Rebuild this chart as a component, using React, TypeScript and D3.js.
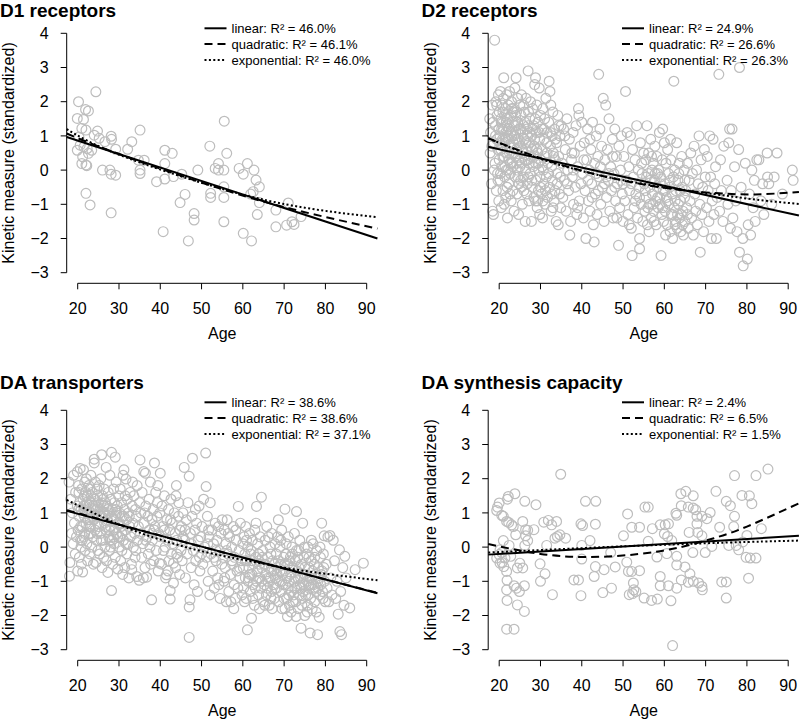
import React from 'react';
import * as d3 from 'd3';

// ---- data: [age, standardized kinetic measure] ----
const d1Points: [number, number][] = [
  [24.4,2.29],[20.2,2.0],[21.9,1.77],[22.6,1.73],[19.9,1.51],[21.4,1.48],[21.0,1.22],[22.0,1.17],[24.8,1.14],
  [35.1,1.17],[55.5,1.43],[20.3,0.97],[24.0,1.02],[25.2,0.93],[28.1,0.99],[28.2,0.9],[26.6,0.83],[33.1,0.83],
  [32.1,0.61],[29.2,0.61],[23.4,0.58],[19.9,0.58],[20.6,0.73],[21.5,0.68],[22.3,0.63],[52.0,0.7],[41.1,0.58],
  [42.9,0.49],[56.1,0.49],[21.0,0.19],[22.0,0.15],[22.2,0.13],[26.0,0.0],[27.8,0.0],[28.1,-0.12],[29.2,-0.15],
  [35.1,-0.1],[35.1,0.0],[34.7,0.29],[36.1,0.29],[39.1,-0.34],[41.1,0.19],[41.1,-0.26],[43.2,-0.19],[45.2,-0.12],
  [49.1,0.0],[46.0,-0.71],[44.8,-0.95],[48.2,-1.27],[48.2,-1.46],[46.8,-2.07],[40.7,-1.8],[52.2,-0.68],[52.2,-0.8],
  [53.3,0.05],[54.1,0.19],[54.1,0.0],[55.4,0.0],[55.4,-0.49],[55.4,-0.8],[55.4,-1.51],[59.1,0.05],[60.1,-0.12],
  [61.1,0.19],[62.7,0.0],[63.2,-0.29],[64.0,-0.49],[62.5,-0.63],[61.9,-0.7],[64.0,-0.95],[63.5,-1.3],[60.1,-1.85],
  [62.1,-2.07],[68.0,-1.17],[68.0,-1.66],[71.0,-0.96],[70.6,-1.61],[71.9,-1.51],[72.4,-1.59],[74.1,-1.36],
  [22.0,-0.68],[23.0,-1.02],[28.1,-1.25],[21.2,0.39],[22.6,0.49],
];

const d2Points: [number, number][] = [
  [17.7,1.5],[17.8,0.5],[17.9,1.1],[18.1,-0.4],[18.3,1.9],[18.4,-1.2],[18.6,-1.3],[18.7,0.8],[18.9,3.8],[19.0,0.2],
  [19.1,1.3],[19.2,2.0],[19.3,-0.6],[19.4,0.9],[19.5,1.6],[19.6,-0.1],[19.7,0.6],[19.8,2.2],[19.9,1.2],[19.9,-0.9],
  [20.0,0.3],[20.0,1.7],
  [20.2,1.0],[20.2,-0.3],[20.3,2.3],[20.4,0.6],[20.5,1.4],[20.5,-1.1],[20.6,0.1],[20.7,1.9],[20.8,0.9],[20.9,-0.6],
  [21.0,1.2],[21.0,2.1],[21.1,2.7],[21.2,0.4],[21.3,1.6],[21.3,-0.2],[21.4,0.8],[21.5,1.8],[21.6,-0.8],[21.6,1.1],
  [21.7,0.0],[21.8,2.2],[21.9,0.5],[22.0,1.5],[22.0,-1.4],[22.1,0.9],[22.2,1.9],[22.3,-0.4],[22.4,1.2],[22.4,0.3],
  [22.5,2.3],[22.6,0.7],[22.7,-0.1],[22.8,1.6],[22.9,-0.9],[23.0,1.0],[23.0,2.0],[23.1,0.2],[23.2,1.4],[23.3,-0.6],
  [23.4,0.8],[23.5,1.8],[23.6,-1.2],[23.6,0.5],[23.7,1.3],[23.8,2.4],[23.9,-0.2],[24.0,1.1],[24.1,2.7],[24.1,0.6],
  [24.2,1.7],[24.3,-0.7],[24.4,0.0],[24.5,1.4],[24.5,2.1],[24.6,0.9],[24.7,-1.3],[24.8,0.3],[24.9,1.2],[25.0,1.9],
  [20.9,0.4],[21.8,1.3],[22.6,-0.7],[23.4,1.7],[24.2,0.2],[20.4,1.5],[22.1,0.0],[23.9,0.9],[21.2,-1.0],[24.8,-0.4],
  [25.1,0.7],[25.2,-0.3],[25.3,1.6],[25.4,2.2],[25.5,0.2],[25.6,-1.0],[25.7,1.1],[25.8,0.5],[25.9,1.9],[26.0,-0.6],
  [26.1,0.9],[26.2,1.4],[26.3,-1.5],[26.4,0.0],[26.5,2.1],[26.6,0.6],[26.7,1.2],[26.8,-0.4],[27.0,2.9],[27.0,0.3],
  [27.1,1.7],[27.2,-0.9],[27.3,0.8],[27.4,1.5],[27.5,-0.1],[27.6,2.0],[27.7,0.4],[27.8,-1.5],[27.9,1.0],[28.0,-0.5],
  [28.1,1.8],[28.2,0.1],[28.3,1.3],[28.4,-0.8],[28.5,0.7],[28.6,2.5],[28.8,2.7],[28.8,0.2],[28.9,-0.3],[29.0,1.1],
  [29.1,1.9],[29.2,-1.1],[29.3,0.5],[29.4,1.4],[29.5,-0.6],[29.6,0.0],[29.7,2.4],[29.8,0.9],[29.9,-0.2],[30.0,1.6],
  [25.4,-0.5],[26.2,0.3],[27.1,-0.2],[28.0,0.6],[28.7,1.5],[29.3,-0.9],[26.9,1.0],[25.9,1.3],[29.8,-1.3],[27.5,1.1],
  [30.1,0.3],[30.2,-0.7],[30.3,1.2],[30.4,0.6],[30.5,-1.4],[30.6,1.8],[30.7,0.0],[30.8,-0.4],[30.9,0.9],[31.0,1.5],
  [31.1,-1.0],[31.2,0.4],[31.3,2.1],[31.4,-0.2],[31.5,0.8],[31.6,1.1],[31.7,-0.8],[31.8,0.2],[32.0,1.4],[32.1,2.6],
  [32.2,-0.5],[32.3,2.3],[32.4,0.7],[32.5,1.9],[32.6,-1.2],[32.7,0.1],[32.8,1.0],[32.9,-0.3],[33.0,1.7],[33.1,0.5],
  [33.3,-0.9],[33.4,1.2],[33.5,-0.6],[33.6,0.3],[33.8,-1.5],[33.9,0.8],[34.0,-0.1],[34.2,1.6],[34.3,-1.6],[34.4,0.4],
  [34.6,-0.7],[34.7,1.0],[34.8,-0.2],[35.0,1.3],[34.9,-1.1],
  [35.2,0.2],[35.4,-0.8],[35.6,1.2],[35.8,-0.3],[36.0,0.6],[36.2,-1.2],[36.4,1.5],[36.6,0.0],[36.8,-0.6],[37.0,0.9],
  [37.1,-1.9],[37.3,-1.5],[37.5,0.3],[37.7,-0.2],[37.9,1.1],[38.0,-1.0],[38.2,0.5],[38.4,-0.5],[38.6,1.3],[38.8,-1.3],
  [39.0,0.1],[39.2,1.8],[39.3,1.6],[39.4,-0.9],[39.6,0.7],[39.8,-0.4],[40.0,1.4],[35.9,1.0],[37.6,0.5],[39.0,-1.1],
  [40.2,-0.1],[40.4,-1.4],[40.6,0.8],[40.8,-0.6],[41.0,-2.0],[41.2,0.3],[41.4,1.2],[41.6,-0.9],[41.8,0.0],[42.0,-1.2],
  [42.2,0.6],[42.4,-0.4],[42.6,1.4],[42.8,-1.6],[43.0,-2.1],[43.1,0.2],[43.3,-0.7],[43.5,1.0],[43.7,-1.3],[43.9,0.4],
  [44.1,2.8],[44.2,-0.2],[44.4,1.2],[44.6,-1.0],[44.8,0.7],[45.0,-0.5],[42.0,0.9],[43.5,-0.1],[41.5,-0.3],[44.5,0.1],
  [45.2,2.1],[45.4,-1.5],[45.6,0.3],[45.8,1.9],[46.0,-0.8],[46.2,0.6],[46.4,-0.3],[46.6,1.5],[46.8,-1.2],[47.0,0.1],
  [47.2,-0.6],[47.4,0.9],[47.6,-1.4],[47.8,-0.1],[48.0,1.2],[48.2,-0.9],[48.4,0.4],[48.6,-0.4],[48.9,-2.2],[49.0,0.7],
  [49.2,-1.1],[49.4,0.0],[49.6,1.0],[49.8,-0.7],[50.0,-1.5],[46.5,-0.1],[47.5,0.4],[48.5,-1.4],[49.5,-0.3],[45.5,-0.4],
  [50.2,0.4],[50.4,-0.9],[50.6,2.3],[50.8,-0.3],[51.0,1.1],[51.2,-1.3],[51.4,0.1],[51.6,-0.6],[51.8,1.0],[52.0,-1.7],
  [52.2,-2.5],[52.3,0.6],[52.5,-0.2],[52.7,-1.1],[52.9,0.3],[53.1,-0.7],[53.3,1.3],[53.5,-1.4],[53.7,0.0],[53.9,-0.5],
  [54.0,-2.0],[54.0,-2.3],[54.2,0.8],[54.4,-1.0],[54.6,-0.1],[54.8,-1.5],[55.0,0.5],[51.5,-1.6],[53.0,-0.9],[54.5,0.2],
  [55.2,-0.4],[55.3,-1.2],[55.5,0.3],[55.6,-0.8],[55.8,1.3],[55.9,-1.6],[56.1,-0.1],[56.2,0.5],[56.4,-1.0],[56.5,-0.5],
  [56.7,0.9],[56.8,-1.4],[57.0,0.0],[57.1,-0.7],[57.3,0.2],[57.4,-1.2],[57.6,-0.3],[57.7,0.7],[57.9,-0.9],[58.0,-1.6],
  [58.2,0.4],[58.3,-0.5],[58.5,-1.1],[58.6,0.0],[58.8,1.1],[58.9,-0.8],[59.1,-0.2],[59.2,-2.5],[59.4,-1.3],[59.5,0.3],
  [59.7,-0.6],[59.8,-1.5],[60.0,0.8],[55.7,-0.2],[56.9,0.4],[57.5,-1.5],[58.4,-0.1],[59.0,-1.0],[59.6,1.2],[56.3,-1.8],
  [60.1,-0.4],[60.2,-1.2],[60.4,0.2],[60.5,-0.8],[60.7,-1.6],[60.8,0.6],[61.0,-0.1],[61.1,-1.0],[61.3,-0.5],[61.4,-1.8],
  [61.6,0.3],[61.7,-1.3],[61.9,-0.7],[62.0,-2.0],[62.2,-0.2],[62.3,2.6],[62.4,-1.1],[62.5,0.0],[62.7,-1.5],[62.8,-0.6],
  [63.0,0.8],[63.1,-1.7],[63.3,-0.3],[63.4,-1.0],[63.6,0.2],[63.7,-1.4],[63.9,-0.9],[64.0,-1.8],[64.2,0.4],[64.3,-0.5],
  [64.5,-1.2],[64.6,-1.9],[64.8,0.0],[64.9,-0.8],[65.0,-1.5],[61.5,0.9],[62.6,-1.6],[63.5,-0.1],[60.3,-1.9],[64.1,-1.3],
  [65.2,-0.6],[65.4,-1.1],[65.6,0.2],[65.8,-1.7],[66.0,-0.3],[66.2,-0.9],[66.4,0.5],[66.6,-1.4],[66.8,-0.1],[67.0,-1.9],
  [67.2,0.7],[67.4,-0.7],[67.6,-1.2],[67.8,0.0],[68.0,-1.6],[68.2,-0.4],[68.4,1.0],[68.6,-1.0],[68.7,-2.4],[68.9,0.3],
  [69.1,-1.3],[69.3,-0.5],[69.5,-1.8],[69.7,0.6],[69.9,-0.2],
  [70.2,-1.1],[70.4,0.4],[70.6,-0.6],[70.8,-1.5],[71.0,1.0],[71.2,-0.2],[71.4,-2.0],[71.6,-0.9],[71.8,0.9],[72.0,-1.3],
  [72.2,-0.4],[72.4,0.1],[72.6,-2.0],[72.8,-0.8],[73.2,2.8],[73.4,-1.2],[73.6,0.3],[73.8,-0.6],[74.2,-1.5],[74.4,0.7],
  [75.2,-0.3],[75.4,-1.0],[75.6,0.8],[75.8,1.2],[76.0,-1.7],[76.2,-0.6],[76.4,1.2],[76.6,-1.4],[77.0,0.1],[77.3,-0.9],
  [77.6,-1.8],[78.0,0.6],[78.2,3.0],[78.2,-2.4],[78.6,-0.5],[79.0,-2.0],[79.1,-2.8],[79.6,0.2],
  [80.1,-2.6],[80.3,-1.6],[80.6,-0.7],[80.9,-1.9],[81.2,0.0],[81.5,-1.1],[81.8,-0.3],[82.0,-1.5],[82.4,0.3],[82.9,0.3],
  [83.4,-0.9],[83.8,-0.4],[84.1,-1.3],[84.9,0.5],
  [85.0,-0.2],[85.3,-0.4],[86.0,-1.0],[86.6,-0.2],[87.3,0.5],[88.6,-0.7],[91.0,0.0],[91.2,-0.3],
  // denser young cluster
  [18.2,0.7],[18.5,1.4],[18.8,0.0],[19.1,1.0],[19.4,1.9],[19.7,-0.3],[20.1,0.8],[20.6,1.2],[20.9,1.7],[21.1,0.7],
  [21.4,0.1],[21.7,1.4],[21.9,-0.5],[22.2,1.0],[22.5,0.5],[22.8,1.1],[23.1,1.8],[23.3,0.1],[23.6,1.0],[23.9,0.4],
  [24.2,1.3],[24.5,-0.2],[24.7,0.8],[25.0,0.1],[25.3,1.2],[25.6,0.6],[25.9,-0.2],[26.1,1.7],[26.4,0.8],[26.7,-0.7],
  [27.0,1.3],[27.3,0.2],[27.6,0.7],[27.9,-0.3],[28.2,1.2],[28.5,0.4],[28.8,-0.9],[29.1,0.6],[29.4,0.2],[29.7,1.1],
  [30.0,-0.5],[30.4,0.1],[30.8,1.2],[31.2,-0.6],[31.6,0.5],[32.0,-0.1],[32.4,1.1],[32.8,-0.7],[33.2,0.4],[33.6,0.9],
  [34.0,-0.4],[34.4,1.3],[26.0,0.4],[22.7,0.2],[24.0,1.6],[21.5,0.9],[20.3,-0.1],[28.6,0.9],[30.6,-0.9],[33.0,-1.1],
  [55.4,-0.6],[56.0,-1.1],[56.6,-0.3],[57.2,-1.0],[57.8,-0.1],[58.4,-0.8],[59.0,-0.4],[59.6,-1.1],[60.2,-0.6],[60.8,-0.9],
  [61.4,-0.3],[62.0,-1.3],[62.6,-0.9],[63.2,-1.3],[63.8,-0.6],[64.4,-1.6],[65.0,-0.3],[65.6,-1.3],[44.0,-0.6],[46.0,-0.2],
  [48.0,-0.5],[50.0,-0.4],[52.0,-0.4],[54.0,-0.8],[40.5,0.3],[42.5,-0.8],[38.0,0.0],[36.5,-0.4],
];

const datPoints: [number, number][] = [
  [17.9,1.9],[18.0,-0.85],[18.1,-0.45],[18.3,1.4],[18.5,0.4],[18.7,1.0],[18.9,0.1],[19.0,2.1],[19.2,0.7],[19.4,-0.2],
  [19.5,1.6],[19.7,0.3],[19.9,2.2],[19.9,1.2],[20.0,-0.7],
  [20.1,0.5],[20.2,1.8],[20.3,0.9],[20.4,-0.3],[20.5,1.3],[20.6,2.3],[20.7,0.2],[20.8,1.1],[20.9,-0.5],[21.0,1.7],
  [21.1,0.6],[21.2,-0.73],[21.3,1.4],[21.4,2.26],[21.5,0.3],[21.6,0.9],[21.7,1.9],[21.8,-0.1],[21.9,1.2],[22.0,0.7],
  [22.1,2.0],[22.2,0.1],[22.3,1.5],[22.4,-0.4],[22.5,0.8],[22.6,1.1],[22.7,1.8],[22.8,0.4],[22.9,-0.2],[23.0,1.3],
  [23.1,0.6],[23.2,2.1],[23.3,1.0],[23.4,0.0],[23.5,1.6],[23.6,0.3],[23.7,1.2],[23.8,-0.5],[23.9,0.8],[24.0,2.57],
  [24.0,2.46],[24.1,1.4],[24.2,0.5],[24.3,1.9],[24.4,-0.45],[24.5,1.1],[24.6,0.2],[24.7,1.7],[24.8,0.7],[24.9,-0.1],
  [25.0,1.3],[20.8,0.0],[21.6,1.5],[22.4,1.0],[23.2,0.4],[24.4,0.9],[20.3,1.6],[22.9,1.7],[23.8,1.1],[21.1,0.2],
  [25.1,0.6],[25.2,1.8],[25.3,-0.2],[25.4,1.1],[25.5,0.4],[25.6,2.0],[25.8,2.7],[25.8,0.9],[25.9,-0.6],[26.0,1.5],
  [26.1,0.2],[26.2,1.0],[26.3,-0.3],[26.4,1.7],[26.5,0.7],[26.6,0.0],[26.7,1.3],[26.9,2.33],[26.9,0.5],[27.0,-0.4],
  [27.1,1.2],[27.2,0.8],[27.3,-0.74],[27.4,1.6],[27.5,0.3],[27.6,1.0],[27.7,-0.1],[27.8,2.1],[27.9,0.6],[28.0,1.4],
  [28.2,2.77],[28.2,-1.27],[28.3,0.2],[28.4,1.1],[28.5,-0.5],[28.6,0.8],[28.7,1.7],[28.8,0.1],[28.9,1.3],[29.1,2.63],
  [29.1,-0.3],[29.2,0.9],[29.3,1.9],[29.4,0.4],[29.6,1.2],[29.7,-0.64],[29.8,0.7],[29.9,1.5],[30.0,0.0],[25.7,1.3],
  [26.8,0.9],[27.8,0.2],[28.9,0.5],[29.5,1.0],[26.3,1.2],
  [30.1,1.0],[30.2,0.3],[30.3,1.7],[30.4,-0.4],[30.5,0.6],[30.6,1.3],[30.7,-0.1],[30.8,0.9],[31.0,2.1],[31.1,0.2],
  [31.2,2.26],[31.3,1.1],[31.4,-0.6],[31.6,0.5],[31.7,1.99],[31.8,0.8],[31.9,-0.2],[32.0,1.4],[32.2,0.1],[32.3,1.0],
  [32.4,-0.9],[32.6,0.6],[32.7,1.6],[32.8,0.3],[33.0,-0.5],[33.1,-0.66],[33.2,1.2],[33.4,0.7],[33.5,0.0],[33.6,1.5],
  [33.8,0.4],[33.9,-0.3],[34.0,1.1],[34.2,0.9],[34.3,-0.86],[34.4,1.8],[34.5,0.2],[34.7,0.6],[34.9,-0.97],[35.0,1.3],
  [31.5,1.5],[32.5,0.9],[33.3,1.9],[34.1,-0.1],[30.9,-0.8],
  [35.1,2.55],[35.2,0.4],[35.3,1.0],[35.5,-0.3],[35.6,1.6],[35.8,0.1],[36.0,2.21],[36.1,0.7],[36.3,-0.6],[36.4,2.16],
  [36.5,1.2],[36.7,-0.88],[36.8,0.3],[37.0,0.9],[37.1,-0.2],[37.3,1.4],[37.4,0.5],[37.6,1.9],[37.7,-0.5],[37.9,-1.54],
  [38.0,0.8],[38.1,0.2],[38.3,1.1],[38.4,-0.4],[38.6,2.46],[38.7,0.6],[38.9,1.6],[39.0,-0.1],[39.2,0.9],[39.3,1.3],
  [39.5,-0.7],[39.6,0.4],[39.8,-0.47],[39.9,1.0],[40.0,2.16],[36.2,1.0],[37.5,0.0],[38.5,0.5],[39.4,1.8],[35.9,-0.9],
  [40.1,0.3],[40.3,-0.5],[40.4,1.2],[40.6,0.6],[40.8,-0.1],[41.0,1.5],[41.2,0.0],[41.3,-0.9],[41.5,-0.81],[41.6,0.8],
  [41.8,0.2],[42.0,1.1],[42.1,-0.4],[42.3,0.5],[42.4,-1.27],[42.4,-1.52],[42.6,1.4],[42.7,-0.2],[42.9,0.7],[43.0,0.1],
  [43.2,-1.05],[43.2,-0.47],[43.4,1.0],[43.6,0.4],[43.7,-0.6],[43.9,1.8],[44.0,0.2],[44.2,-0.3],[44.4,0.9],[44.5,1.3],
  [44.7,-0.8],[44.8,0.5],[45.0,-0.1],[41.9,-0.7],[43.8,1.5],
  [45.1,0.6],[45.3,-0.4],[45.5,1.0],[45.8,2.33],[45.9,0.2],[46.1,-0.9],[46.3,0.8],[46.5,-0.2],[46.7,1.3],[47.0,2.07],
  [47.0,-2.64],[47.0,-1.75],[47.2,-1.54],[47.3,0.4],[47.5,-0.6],[47.7,0.9],[47.8,2.6],[48.0,-0.1],[48.2,-1.1],[48.4,0.5],
  [48.6,-0.4],[48.8,0.7],[49.0,-1.3],[49.2,0.2],[49.4,1.2],[49.6,-0.7],[49.8,0.3],[50.0,-0.2],[46.0,0.5],[48.5,1.1],
  [50.1,0.6],[50.3,-0.5],[50.5,1.4],[50.7,0.0],[51.0,2.75],[51.1,1.77],[51.2,-0.3],[51.4,0.9],[51.6,-1.0],[51.8,0.3],
  [52.0,-1.4],[52.1,1.3],[52.3,-0.2],[52.5,0.5],[52.7,-0.7],[52.9,0.1],[53.1,-1.2],[53.3,0.7],[53.5,-0.4],[53.7,0.2],
  [53.9,-0.9],[54.1,0.6],[54.3,-0.1],[54.5,-1.5],[54.7,0.4],[54.9,-0.5],[55.0,0.8],[51.7,0.5],[53.0,-0.3],[54.2,-1.1],
  [55.2,-0.3],[55.4,-1.0],[55.5,0.5],[55.7,-0.6],[55.9,0.1],[56.0,-1.6],[56.2,0.8],[56.4,-0.2],[56.6,-1.3],[56.8,0.3],
  [57.0,-0.8],[57.1,-1.6],[57.3,0.0],[57.5,-0.5],[57.7,0.6],[57.9,-1.1],[58.0,-0.3],[58.2,-1.5],[58.4,0.2],[58.6,-0.7],
  [58.8,-1.2],[58.9,1.19],[59.1,-0.1],[59.3,-0.9],[59.4,0.7],[59.6,-0.4],[59.8,-1.4],[60.0,0.1],[55.6,-0.9],[56.5,0.4],
  [57.4,-0.4],[58.3,0.5],[59.2,-0.6],[56.1,-0.1],[57.8,-1.8],
  [60.1,-0.6],[60.2,-1.2],[60.3,0.3],[60.5,-0.2],[60.6,-0.9],[60.7,0.6],[60.8,-1.5],[61.0,-0.4],[61.1,-2.42],[61.2,0.0],
  [61.3,-1.0],[61.5,-0.6],[61.6,0.4],[61.8,-1.3],[61.9,-0.2],[62.1,-2.08],[62.2,-0.8],[62.3,0.2],[62.5,-1.1],[62.6,-0.5],
  [62.8,-1.7],[62.9,0.5],[63.1,-0.3],[63.3,1.19],[63.3,-1.0],[63.5,-0.7],[63.6,0.1],[63.8,-1.4],[63.9,-0.4],[64.1,-0.9],
  [64.2,0.3],[64.4,-1.2],[64.5,1.46],[64.6,-0.6],[64.8,-0.1],[65.0,-1.6],[60.9,0.2],[61.7,-0.8],[62.4,-1.5],[63.2,0.7],
  [64.0,-1.8],[64.7,-0.3],[62.0,-0.1],[63.7,-0.9],[60.4,-1.6],
  [65.1,-0.5],[65.2,-1.1],[65.4,0.2],[65.5,-0.8],[65.7,-1.4],[65.8,0.6],[66.0,-0.3],[66.1,-1.0],[66.3,-0.6],[66.4,-1.7],
  [66.6,0.0],[66.7,-0.9],[66.9,-1.3],[67.0,0.4],[67.2,-0.4],[67.3,-1.1],[67.5,-0.7],[67.6,-1.5],[67.8,0.1],[67.9,-0.9],
  [68.1,-0.2],[68.2,-1.2],[68.4,0.3],[68.5,-0.6],[68.7,-1.6],[68.8,-1.0],[69.0,0.0],[69.1,-0.5],[69.3,-1.3],[69.4,0.5],
  [69.6,-0.8],[69.7,-1.1],[69.9,-0.3],[70.0,-1.5],[70.2,1.11],[65.9,-1.2],[66.8,-0.2],[67.7,-0.5],[68.6,0.8],[69.5,-1.8],
  [66.2,0.3],[67.1,-1.8],[68.3,-0.8],[69.2,0.2],[65.3,-1.7],
  [70.1,-0.7],[70.3,-1.1],[70.4,-0.2],[70.6,-1.5],[70.8,-2.03],[70.9,-0.5],[71.0,0.3],[71.2,-1.0],[71.3,-1.7],[71.5,-0.3],
  [71.6,-0.8],[71.8,-1.3],[71.9,0.0],[72.1,-0.6],[72.2,-1.6],[72.4,-1.0],[72.5,0.4],[72.7,-0.4],[72.9,-2.03],[73.0,1.04],
  [73.1,-1.2],[73.2,-0.7],[73.4,-1.8],[73.5,-0.1],[73.7,-1.4],[73.8,0.2],[74.0,-0.9],[74.1,-2.37],[74.2,-0.5],[74.4,-1.5],
  [74.5,0.7],[74.7,-1.1],[74.8,-0.3],[75.0,-2.0],[70.5,0.1],[71.4,-0.4],[72.3,-1.4],[73.3,-0.3],[74.3,-1.7],[70.7,-0.9],
  [71.7,-1.9],[72.6,-0.9],[73.6,-0.6],[74.6,-1.3],[71.1,-1.4],[72.0,-0.2],[73.9,-1.1],[74.9,0.0],[70.2,-1.8],[72.8,-1.6],
  [75.1,-0.8],[75.2,-1.4],[75.4,-0.2],[75.5,-1.0],[75.7,-1.7],[75.8,0.0],[76.0,-0.6],[76.1,-1.2],[76.3,-2.51],[76.4,-1.5],
  [76.5,-0.4],[76.7,-0.9],[76.8,-1.8],[77.0,0.1],[77.1,-1.1],[77.3,-0.5],[77.4,-1.6],[77.6,-0.8],[77.7,-1.3],[77.9,-0.1],
  [78.1,-2.56],[78.2,-1.0],[78.3,-0.6],[78.5,-2.05],[78.6,-1.4],[78.8,-0.3],[78.9,-1.1],[79.1,0.7],[79.2,-0.7],[79.4,-1.5],
  [79.5,-0.2],[79.7,0.33],[79.8,-1.0],[80.0,-1.6],[75.6,-1.9],[76.6,0.2],[77.5,-1.2],[78.4,-0.9],[79.3,-1.3],[75.9,-1.1],
  [76.9,-0.7],[77.8,-1.9],[78.7,0.0],[79.6,-0.6],[76.2,-0.9],
  [80.2,-0.5],[80.4,-1.2],[80.6,0.3],[80.8,-1.6],[81.1,0.34],[81.3,-0.9],[81.6,-1.4],[81.9,0.2],[82.2,-0.4],[82.5,-1.5],
  [82.8,-1.0],[83.1,-1.96],[83.4,-0.08],[83.5,-2.47],[83.7,-1.3],[83.9,-2.56],[84.2,-0.6],[84.5,-1.7],[84.7,-0.27],[85.0,-0.9],
  [85.9,-1.78],[87.2,-0.66],[89.2,-0.47],
  // denser clusters
  [20.2,1.1],[20.7,0.6],[21.2,1.0],[21.7,0.4],[22.2,1.3],[22.7,0.6],[23.2,1.5],[23.7,0.9],[24.2,1.2],[24.7,0.4],
  [25.2,0.9],[25.7,0.2],[26.2,1.4],[26.7,0.6],[27.2,1.1],[27.7,0.5],[28.2,0.9],[28.7,0.3],[29.2,1.1],[29.7,0.3],
  [30.2,0.7],[30.7,0.4],[31.2,0.9],[31.7,0.1],[21.4,1.2],[23.0,0.8],[24.8,1.5],[26.5,1.0],[28.0,0.0],[22.0,1.6],
  [60.6,-0.4],[61.4,-0.9],[62.2,-0.4],[63.0,-1.2],[63.8,-0.2],[64.6,-1.0],[65.4,-0.5],[66.2,-0.9],[67.0,-0.7],[67.8,-1.2],
  [68.6,-0.4],[69.4,-1.0],[70.2,-0.5],[71.0,-1.2],[71.8,-0.6],[72.6,-1.2],[73.4,-0.9],[74.2,-1.2],[75.0,-0.6],[75.8,-1.4],
  [76.6,-1.1],[77.4,-0.3],[78.2,-1.2],[79.0,-0.8],[73.0,-0.1],[74.8,-0.8],[76.0,-0.3],[69.0,-0.7],[66.8,-1.5],[64.0,-0.5],
  [41.0,0.5],[42.5,0.8],[44.0,-0.2],[45.5,0.3],[47.5,0.1],[49.5,-0.3],[51.5,0.1],[53.5,-0.1],[38.0,0.4],[36.5,0.2],
];

const synthPoints: [number, number][] = [
  [20.0,1.29],[19.6,1.17],[19.4,1.07],[20.6,0.93],[21.0,0.9],[21.8,0.75],[22.3,0.72],[23.0,0.65],[23.8,1.56],[22.2,1.48],
  [22.0,1.4],[24.0,0.36],[23.4,0.6],[25.7,0.75],[26.2,1.34],[26.4,0.51],[26.9,0.49],[26.9,0.19],[26.4,0.33],[26.2,0.05],
  [21.0,0.19],[22.4,0.05],[20.2,-0.08],[19.4,-0.32],[20.2,-0.47],[20.7,-0.45],[21.4,-0.32],[21.1,-0.57],[21.8,-0.71],
  [22.8,-0.27],[21.9,-0.97],[21.8,-1.25],[21.9,-1.56],[23.6,-1.13],[24.2,-1.2],[24.9,-1.3],[25.0,-0.47],[24.4,-0.61],
  [25.7,-0.61],[26.1,-1.13],[24.4,-1.69],[26.1,-1.88],[21.8,-2.4],[23.6,-2.4],[20.0,-0.22],[20.6,-0.16],
  [28.9,1.24],[28.4,0.51],[29.9,-0.49],[30.0,-1.0],[31.1,-0.78],[31.5,0.05],[30.8,0.73],[31.9,0.78],[32.7,0.65],
  [33.9,0.75],[32.9,-1.39],[33.5,0.26],[34.1,0.31],[34.7,0.36],[36.1,0.26],[34.9,2.13],[38.1,-0.96],[39.2,-0.96],
  [39.8,0.68],[40.2,0.63],[40.0,0.05],[40.0,-0.35],[39.8,-1.42],[40.9,1.34],[42.0,0.19],[43.4,1.34],[43.3,0.67],
  [43.3,-0.57],[43.0,-0.86],[45.1,-1.33],[45.4,-0.66],[47.0,-0.16],[47.2,-1.2],[48.1,-0.58],
  [50.1,0.33],[51.1,0.97],[50.9,-0.44],[51.3,-0.71],[51.5,-1.39],[52.3,-1.36],[52.1,0.58],[54.0,0.58],[52.1,-0.71],
  [52.5,-1.05],[52.6,-1.25],[53.1,-1.3],[54.0,-0.69],[55.1,-1.49],[55.3,1.17],[56.1,1.17],[56.1,0.17],[56.9,-1.56],
  [57.1,0.54],[58.3,-1.52],[58.2,-0.29],[59.0,-0.86],[59.0,-1.13],[59.0,0.65],[60.2,0.65],[61.0,0.68],[60.0,0.39],
  [60.6,-0.19],[60.8,0.31],[61.8,0.19],[61.0,-1.13],[61.6,-1.57],[62.0,-2.88],[62.8,0.99],[63.0,0.93],[63.0,-0.27],
  [63.0,-0.52],[63.0,-1.2],[64.0,1.56],[64.1,1.21],[64.1,-0.96],[65.2,1.63],[65.0,-0.58],[65.8,1.17],[66.0,0.43],
  [65.8,-1.03],[66.2,-0.78],[67.0,1.5],[67.0,1.14],[66.9,-0.16],[67.0,-1.0],[67.6,1.09],[67.9,0.9],[67.9,0.68],
  [68.1,0.43],[68.3,-1.05],[69.1,0.9],[69.1,0.33],[69.1,-1.15],[69.2,-1.25],[69.9,-0.16],[70.3,0.83],[71.1,1.01],
  [71.5,0.02],[72.5,1.63],[73.4,0.58],[73.9,-1.02],[75.0,-1.02],[75.0,-1.49],[75.0,1.34],[76.0,1.21],[75.6,0.05],
  [77.0,2.09],[77.0,0.9],[76.8,0.6],[77.4,0.05],[78.0,-0.08],[78.8,1.51],[79.8,-0.3],[80.0,0.34],[80.6,1.5],
  [81.2,1.27],[80.4,-0.91],[80.8,-0.32],[82.2,2.09],[82.2,-0.32],[83.5,0.54],[85.1,2.28],[79.0,0.15],
];

// fitted curves at a few ages
const d1Linear: [number, number][] = [[17.34, 0.97], [92.6, -2.0]];
const d1Quadratic: [number, number][] = [[17.34, 1.07], [30, 0.47], [55, -0.56], [75, -1.23], [92.6, -1.71]];
const d1Exponential: [number, number][] = [[17.34, 1.2], [30, 0.45], [55, -0.55], [75, -1.1], [92.6, -1.38]];

const d2Linear: [number, number][] = [[17.34, 0.68], [92.6, -1.33]];
const d2Quadratic: [number, number][] = [[17.34, 0.93], [30, 0.35], [45, -0.17], [60, -0.52], [72, -0.67], [82, -0.71], [92.6, -0.64]];
const d2Exponential: [number, number][] = [[17.34, 0.93], [30, 0.33], [45, -0.17], [60, -0.5], [72, -0.7], [82, -0.86], [92.6, -0.99]];

const datLinear: [number, number][] = [[17.34, 1.06], [92.6, -1.35]];
const datQuadratic: [number, number][] = [[17.34, 1.08], [55, -0.15], [92.6, -1.34]];
const datExponential: [number, number][] = [[17.34, 1.38], [30, 0.66], [40, 0.22], [50, -0.12], [60, -0.37], [70, -0.6], [80, -0.78], [92.6, -0.97]];

const synthLinear: [number, number][] = [[17.34, -0.22], [92.6, 0.33]];
const synthQuadratic: [number, number][] = [[17.34, 0.09], [30, -0.2], [42, -0.29], [54, -0.2], [64, 0.0], [72, 0.26], [80, 0.6], [92.6, 1.28]];
const synthExponential: [number, number][] = [[17.34, -0.16], [40, -0.03], [60, 0.07], [80, 0.15], [92.6, 0.19]];

const titles = ['D1 receptors', 'D2 receptors', 'DA transporters', 'DA synthesis capacity'];
const r2Linear = ['46.0%', '24.9%', '38.6%', '2.4%'];
const r2Quadratic = ['46.1%', '26.6%', '38.6%', '6.5%'];
const r2Exponential = ['46.0%', '26.3%', '37.1%', '1.5%'];

const xTicks = [20, 30, 40, 50, 60, 70, 80, 90];
const yTicks = [-3, -2, -1, 0, 1, 2, 3, 4];

const FONT = '"Liberation Sans", Arial, Helvetica, sans-serif';
const W = 800, H = 719;

const DASH = { solid: undefined, dashed: '8,5', dotted: '2,2.4' };

type Fit = { label: string; r2: string; pts: [number, number][]; dash?: string };

function Panel({ idx, points, fits }: { idx: number; points: [number, number][]; fits: Fit[] }) {
  const col = idx % 2, row = Math.floor(idx / 2);
  const ox = col === 0 ? 0 : 421.5;
  const oy = row === 0 ? 0 : 377;
  const titleY = row === 0 ? 17 : 389;
  const legendTop = row === 0 ? 28.3 : 402.3;
  const legendX = col === 0 ? 204.5 : 622;

  const x = d3.scaleLinear().domain([20, 90]).range([ox + 77.7, ox + 366.7]);
  const y = d3.scaleLinear().domain([-3, 4]).range([oy + 272.7, oy + 33.3]);
  const axisX = ox + 66.7;
  const axisY = oy + 283.3;

  const line = d3.line<[number, number]>()
    .x(d => x(d[0]))
    .y(d => y(d[1]))
    .curve(d3.curveNatural);

  const fmt = (v: number) => String(v).replace('-', '\u2212');

  // draw exponential, then quadratic, then linear on top
  const drawOrder = [fits[2], fits[1], fits[0]];

  return (
    <g>
      <text x={ox} y={titleY} fontSize={19} fontWeight="bold" fontFamily={FONT}>{titles[idx]}</text>

      {points.map((p, i) => (
        <circle key={i} cx={x(p[0])} cy={y(p[1])} r={4.9} fill="none" stroke="#bdbdbd" strokeWidth={1.2} />
      ))}

      {drawOrder.map((f, i) => (
        <path key={i} d={line(f.pts) || ''} fill="none" stroke="#000" strokeWidth={2}
          strokeDasharray={f.dash} />
      ))}

      {/* y axis */}
      <line x1={axisX} x2={axisX} y1={y(4)} y2={y(-3)} stroke="#000" strokeWidth={1} />
      {yTicks.map(t => (
        <g key={t}>
          <line x1={axisX - 6} x2={axisX} y1={y(t)} y2={y(t)} stroke="#000" strokeWidth={1} />
          <text x={axisX - 18} y={y(t)} dy="0.36em" textAnchor="end" fontSize={16} fontFamily={FONT}>{fmt(t)}</text>
        </g>
      ))}
      <text transform={`translate(${ox + 14},${oy + 153}) rotate(-90)`} textAnchor="middle" fontSize={16}
        fontFamily={FONT}>Kinetic measure (standardized)</text>

      {/* x axis */}
      <line x1={x(20)} x2={x(90)} y1={axisY} y2={axisY} stroke="#000" strokeWidth={1} />
      {xTicks.map(t => (
        <g key={t}>
          <line x1={x(t)} x2={x(t)} y1={axisY} y2={axisY + 6} stroke="#000" strokeWidth={1} />
          <text x={x(t)} y={axisY + 31} textAnchor="middle" fontSize={16} fontFamily={FONT}>{t}</text>
        </g>
      ))}
      <text x={(x(20) + x(90)) / 2} y={axisY + 56} textAnchor="middle" fontSize={16} fontFamily={FONT}>Age</text>

      {/* legend */}
      {fits.map((f, i) => {
        const ly = legendTop + i * 15.8;
        return (
          <g key={i}>
            <line x1={legendX} x2={legendX + 22} y1={ly} y2={ly} stroke="#000" strokeWidth={2} strokeDasharray={f.dash} />
            <text x={legendX + 27} y={ly} dy="0.36em" fontSize={13} fontFamily={FONT}>
              {`${f.label}: R\u00B2 = ${f.r2}`}
            </text>
          </g>
        );
      })}
    </g>
  );
}

export default function App() {
  const sets = [
    { points: d1Points, lin: d1Linear, quad: d1Quadratic, exp: d1Exponential },
    { points: d2Points, lin: d2Linear, quad: d2Quadratic, exp: d2Exponential },
    { points: datPoints, lin: datLinear, quad: datQuadratic, exp: datExponential },
    { points: synthPoints, lin: synthLinear, quad: synthQuadratic, exp: synthExponential },
  ];
  return (
    <svg width={W} height={H} style={{ position: 'absolute', left: 0, top: 0, background: '#fff' }}>
      {sets.map((s, i) => (
        <Panel key={i} idx={i} points={s.points} fits={[
          { label: 'linear', r2: r2Linear[i], pts: s.lin, dash: DASH.solid },
          { label: 'quadratic', r2: r2Quadratic[i], pts: s.quad, dash: DASH.dashed },
          { label: 'exponential', r2: r2Exponential[i], pts: s.exp, dash: DASH.dotted },
        ]} />
      ))}
    </svg>
  );
}
